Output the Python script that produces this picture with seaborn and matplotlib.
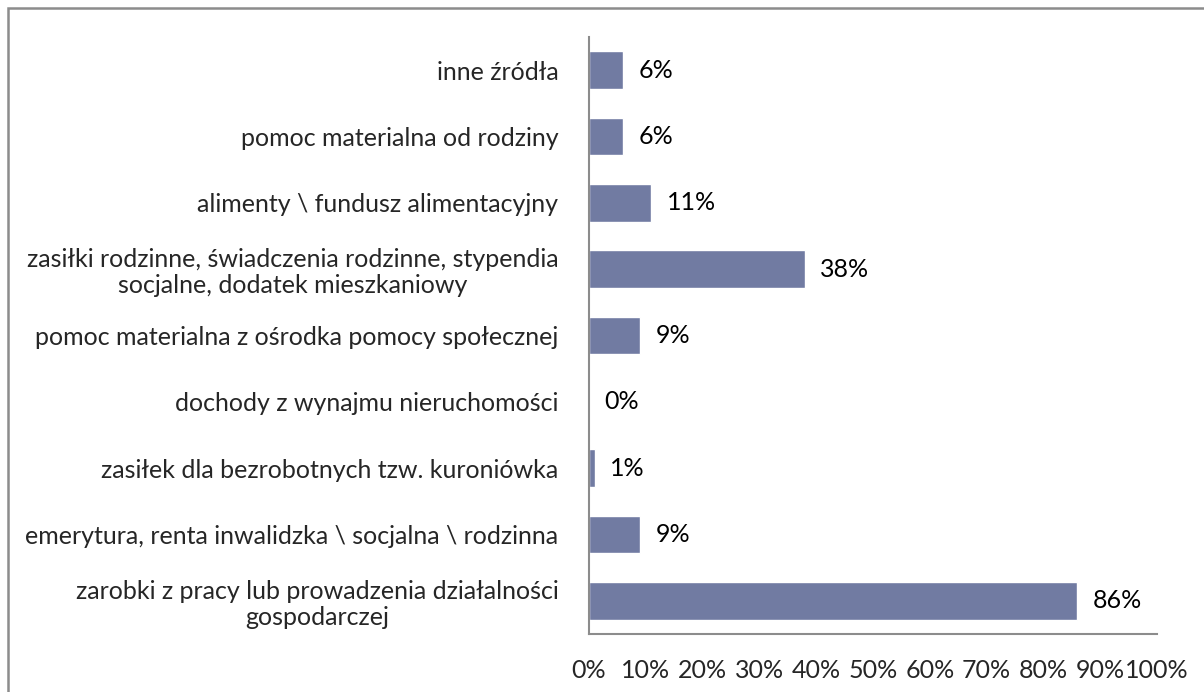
import matplotlib
matplotlib.use("Agg")
import matplotlib.pyplot as plt
import seaborn as sns
import pandas as pd
from matplotlib.patches import Rectangle
from matplotlib.ticker import PercentFormatter

categories = [
    "inne źródła",
    "pomoc materialna od rodziny",
    "alimenty \\ fundusz alimentacyjny",
    "zasiłki rodzinne, świadczenia rodzinne, stypendia\nsocjalne, dodatek mieszkaniowy",
    "pomoc materialna z ośrodka pomocy społecznej",
    "dochody z wynajmu nieruchomości",
    "zasiłek dla bezrobotnych tzw. kuroniówka",
    "emerytura, renta inwalidzka \\ socjalna \\ rodzinna",
    "zarobki z pracy lub prowadzenia działalności\ngospodarczej",
]
values = [6, 6, 11, 38, 9, 0, 1, 9, 86]
x_ticks = [0, 10, 20, 30, 40, 50, 60, 70, 80, 90, 100]

sns.set_theme(style="white")
plt.rcParams['font.family'] = ['Lato', 'DejaVu Sans']

FS = 18

df = pd.DataFrame({"cat": categories, "val": values})

fig = plt.figure(figsize=(12.04, 6.92), dpi=100)
ax = fig.add_axes([589/1204, 1 - 634/692, (1157-589)/1204, (634-37)/692])

sns.barplot(data=df, y="cat", x="val", orient="h", color="#717BA2",
            saturation=1, width=0.57, ax=ax)

ax.set_xlim(0, 100)
ax.set_ylim(len(categories) - 0.5, -0.5)
ax.set_xticks(x_ticks)
ax.xaxis.set_major_formatter(PercentFormatter(decimals=0))
ax.set_xlabel("")
ax.set_ylabel("")
ax.tick_params(axis="x", length=0, pad=18, labelsize=FS)
ax.tick_params(axis="y", length=0, pad=22, labelsize=FS)
for lab in ax.get_yticklabels():
    lab.set_multialignment("center")
    lab.set_linespacing(1.15)
for side in ["top", "right"]:
    ax.spines[side].set_visible(False)
for side in ["left", "bottom"]:
    ax.spines[side].set_color("#8c8c8c")
    ax.spines[side].set_linewidth(1.5)

for i, v in enumerate(values):
    ax.annotate(f"{v}%", xy=(v, i), xytext=(11, 0), textcoords="offset points",
                ha="left", va="center", fontsize=FS, color="black")

fig.patches.append(Rectangle((8/1204, -0.1), 1.2, 1 - 8/692 + 0.1,
                             transform=fig.transFigure, fill=False,
                             edgecolor="#8c8c8c", linewidth=1.8, zorder=0))

fig.savefig("out.png", dpi=100)
